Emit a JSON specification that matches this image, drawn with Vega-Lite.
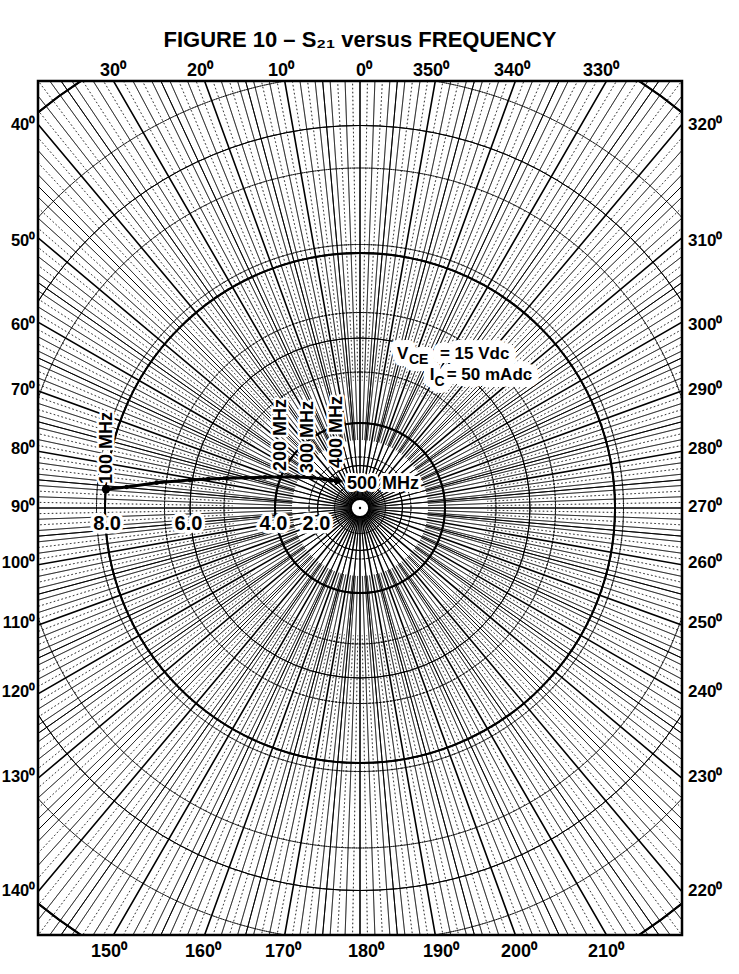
{
  "$schema": "https://vega.github.io/schema/vega-lite/v6.json",
  "width": 644,
  "height": 854,
  "autosize": {"type": "none"},
  "padding": {"left": 38, "top": 81, "right": 57, "bottom": 39},
  "background": "white",
  "config": {"view": {"stroke": "black", "strokeWidth": 2.5}},
  "title": {"text": "FIGURE 10 – S₂₁ versus FREQUENCY", "font": "Liberation Sans", "fontSize": 22, "fontWeight": "bold", "color": "black", "anchor": "middle", "offset": 10},
  "datasets": {
    "ang": [{"a":0},{"a":1},{"a":2},{"a":3},{"a":4},{"a":5},{"a":6},{"a":7},{"a":8},{"a":9},{"a":10},{"a":11},{"a":12},{"a":13},{"a":14},{"a":15},{"a":16},{"a":17},{"a":18},{"a":19},{"a":20},{"a":21},{"a":22},{"a":23},{"a":24},{"a":25},{"a":26},{"a":27},{"a":28},{"a":29},{"a":30},{"a":31},{"a":32},{"a":33},{"a":34},{"a":35},{"a":36},{"a":37},{"a":38},{"a":39},{"a":40},{"a":41},{"a":42},{"a":43},{"a":44},{"a":45},{"a":46},{"a":47},{"a":48},{"a":49},{"a":50},{"a":51},{"a":52},{"a":53},{"a":54},{"a":55},{"a":56},{"a":57},{"a":58},{"a":59},{"a":60},{"a":61},{"a":62},{"a":63},{"a":64},{"a":65},{"a":66},{"a":67},{"a":68},{"a":69},{"a":70},{"a":71},{"a":72},{"a":73},{"a":74},{"a":75},{"a":76},{"a":77},{"a":78},{"a":79},{"a":80},{"a":81},{"a":82},{"a":83},{"a":84},{"a":85},{"a":86},{"a":87},{"a":88},{"a":89},{"a":90},{"a":91},{"a":92},{"a":93},{"a":94},{"a":95},{"a":96},{"a":97},{"a":98},{"a":99},{"a":100},{"a":101},{"a":102},{"a":103},{"a":104},{"a":105},{"a":106},{"a":107},{"a":108},{"a":109},{"a":110},{"a":111},{"a":112},{"a":113},{"a":114},{"a":115},{"a":116},{"a":117},{"a":118},{"a":119},{"a":120},{"a":121},{"a":122},{"a":123},{"a":124},{"a":125},{"a":126},{"a":127},{"a":128},{"a":129},{"a":130},{"a":131},{"a":132},{"a":133},{"a":134},{"a":135},{"a":136},{"a":137},{"a":138},{"a":139},{"a":140},{"a":141},{"a":142},{"a":143},{"a":144},{"a":145},{"a":146},{"a":147},{"a":148},{"a":149},{"a":150},{"a":151},{"a":152},{"a":153},{"a":154},{"a":155},{"a":156},{"a":157},{"a":158},{"a":159},{"a":160},{"a":161},{"a":162},{"a":163},{"a":164},{"a":165},{"a":166},{"a":167},{"a":168},{"a":169},{"a":170},{"a":171},{"a":172},{"a":173},{"a":174},{"a":175},{"a":176},{"a":177},{"a":178},{"a":179},{"a":180},{"a":181},{"a":182},{"a":183},{"a":184},{"a":185},{"a":186},{"a":187},{"a":188},{"a":189},{"a":190},{"a":191},{"a":192},{"a":193},{"a":194},{"a":195},{"a":196},{"a":197},{"a":198},{"a":199},{"a":200},{"a":201},{"a":202},{"a":203},{"a":204},{"a":205},{"a":206},{"a":207},{"a":208},{"a":209},{"a":210},{"a":211},{"a":212},{"a":213},{"a":214},{"a":215},{"a":216},{"a":217},{"a":218},{"a":219},{"a":220},{"a":221},{"a":222},{"a":223},{"a":224},{"a":225},{"a":226},{"a":227},{"a":228},{"a":229},{"a":230},{"a":231},{"a":232},{"a":233},{"a":234},{"a":235},{"a":236},{"a":237},{"a":238},{"a":239},{"a":240},{"a":241},{"a":242},{"a":243},{"a":244},{"a":245},{"a":246},{"a":247},{"a":248},{"a":249},{"a":250},{"a":251},{"a":252},{"a":253},{"a":254},{"a":255},{"a":256},{"a":257},{"a":258},{"a":259},{"a":260},{"a":261},{"a":262},{"a":263},{"a":264},{"a":265},{"a":266},{"a":267},{"a":268},{"a":269},{"a":270},{"a":271},{"a":272},{"a":273},{"a":274},{"a":275},{"a":276},{"a":277},{"a":278},{"a":279},{"a":280},{"a":281},{"a":282},{"a":283},{"a":284},{"a":285},{"a":286},{"a":287},{"a":288},{"a":289},{"a":290},{"a":291},{"a":292},{"a":293},{"a":294},{"a":295},{"a":296},{"a":297},{"a":298},{"a":299},{"a":300},{"a":301},{"a":302},{"a":303},{"a":304},{"a":305},{"a":306},{"a":307},{"a":308},{"a":309},{"a":310},{"a":311},{"a":312},{"a":313},{"a":314},{"a":315},{"a":316},{"a":317},{"a":318},{"a":319},{"a":320},{"a":321},{"a":322},{"a":323},{"a":324},{"a":325},{"a":326},{"a":327},{"a":328},{"a":329},{"a":330},{"a":331},{"a":332},{"a":333},{"a":334},{"a":335},{"a":336},{"a":337},{"a":338},{"a":339},{"a":340},{"a":341},{"a":342},{"a":343},{"a":344},{"a":345},{"a":346},{"a":347},{"a":348},{"a":349},{"a":350},{"a":351},{"a":352},{"a":353},{"a":354},{"a":355},{"a":356},{"a":357},{"a":358},{"a":359}],
    "ring": [{"k":1},{"k":2},{"k":3},{"k":4},{"k":5},{"k":6},{"k":7},{"k":8},{"k":9},{"k":10},{"k":11},{"k":12},{"k":13},{"k":14},{"k":15},{"k":16},{"k":17},{"k":18},{"k":19},{"k":20},{"k":21},{"k":22},{"k":23},{"k":24},{"k":25},{"k":26},{"k":27},{"k":28},{"k":29},{"k":30},{"k":31},{"k":32},{"k":33},{"k":34},{"k":35},{"k":36},{"k":37},{"k":38},{"k":39},{"k":40},{"k":41},{"k":42},{"k":43},{"k":44},{"k":45},{"k":46},{"k":47},{"k":48},{"k":49},{"k":50},{"k":51},{"k":52},{"k":53},{"k":54},{"k":55},{"k":56},{"k":57},{"k":58},{"k":59},{"k":60},{"k":61},{"k":62},{"k":63}],
    "curve": [
      {"f":100,"x":-29.88,"y":2.20},
      {"f":110,"x":-27.45,"y":2.47},
      {"f":125,"x":-23.92,"y":2.98},
      {"f":140,"x":-20.00,"y":3.29},
      {"f":150,"x":-17.85,"y":3.41},
      {"f":160,"x":-15.68,"y":3.49},
      {"f":170,"x":-13.45,"y":3.56},
      {"f":185,"x":-11.18,"y":3.61},
      {"f":200,"x":-9.53,"y":3.65},
      {"f":250,"x":-7.45,"y":3.65},
      {"f":300,"x":-5.68,"y":3.56},
      {"f":350,"x":-4.12,"y":3.38},
      {"f":400,"x":-3.33,"y":3.26},
      {"f":500,"x":-2.44,"y":3.18}
    ],
    "lab": [
      {"g":"top","t":"30⁰","x":-29.06,"y":51.41},
      {"g":"top","t":"20⁰","x":-18.82,"y":51.41},
      {"g":"top","t":"10⁰","x":-9.29,"y":51.41},
      {"g":"top","t":"0⁰","x":0.47,"y":51.41},
      {"g":"top","t":"350⁰","x":8.35,"y":51.41},
      {"g":"top","t":"340⁰","x":17.88,"y":51.41},
      {"g":"top","t":"330⁰","x":28.35,"y":51.41},
      {"g":"bottom","t":"150⁰","x":-29.53,"y":-52.2},
      {"g":"bottom","t":"160⁰","x":-18.47,"y":-52.2},
      {"g":"bottom","t":"170⁰","x":-9.06,"y":-52.2},
      {"g":"bottom","t":"180⁰","x":0.71,"y":-52.2},
      {"g":"bottom","t":"190⁰","x":9.53,"y":-52.2},
      {"g":"bottom","t":"200⁰","x":18.71,"y":-52.2},
      {"g":"bottom","t":"210⁰","x":28.94,"y":-52.2},
      {"g":"left","t":"40⁰","x":-38.2,"y":45.06},
      {"g":"left","t":"50⁰","x":-38.2,"y":31.41},
      {"g":"left","t":"60⁰","x":-38.2,"y":21.53},
      {"g":"left","t":"70⁰","x":-38.2,"y":13.88},
      {"g":"left","t":"80⁰","x":-38.2,"y":6.94},
      {"g":"left","t":"90⁰","x":-38.2,"y":0.12},
      {"g":"left","t":"100⁰","x":-38.2,"y":-6.47},
      {"g":"left","t":"110⁰","x":-38.2,"y":-13.53},
      {"g":"left","t":"120⁰","x":-38.2,"y":-21.65},
      {"g":"left","t":"130⁰","x":-38.2,"y":-31.65},
      {"g":"left","t":"140⁰","x":-38.2,"y":-45.06},
      {"g":"right","t":"320⁰","x":38.59,"y":45.06},
      {"g":"right","t":"310⁰","x":38.59,"y":31.41},
      {"g":"right","t":"300⁰","x":38.59,"y":21.53},
      {"g":"right","t":"290⁰","x":38.59,"y":13.88},
      {"g":"right","t":"280⁰","x":38.59,"y":6.94},
      {"g":"right","t":"270⁰","x":38.59,"y":0.12},
      {"g":"right","t":"260⁰","x":38.59,"y":-6.47},
      {"g":"right","t":"250⁰","x":38.59,"y":-13.53},
      {"g":"right","t":"240⁰","x":38.59,"y":-21.65},
      {"g":"right","t":"230⁰","x":38.59,"y":-31.65},
      {"g":"right","t":"220⁰","x":38.59,"y":-45.06},
      {"g":"mag","t":"8.0","x":-29.76,"y":-1.88},
      {"g":"mag","t":"6.0","x":-20.18,"y":-1.88},
      {"g":"mag","t":"4.0","x":-10.18,"y":-1.88},
      {"g":"mag","t":"2.0","x":-5.12,"y":-1.88},
      {"g":"freqv","t":"100 MHz","x":-29.82,"y":2.82},
      {"g":"freqv","t":"200 MHz","x":-9.24,"y":4.35},
      {"g":"freqv","t":"300 MHz","x":-6.06,"y":4.12},
      {"g":"freqv","t":"400 MHz","x":-2.76,"y":4.71},
      {"g":"freqh","t":"500 MHz","x":-1.53,"y":2.24},
      {"g":"cond","t":"V","x":4.35,"y":17.53},
      {"g":"condsub","t":"CE","x":5.76,"y":16.94},
      {"g":"cond","t":"= 15 Vdc","x":9.4,"y":17.53},
      {"g":"cond","t":"I","x":8.2,"y":15.06},
      {"g":"condsub","t":"C","x":8.75,"y":14.4},
      {"g":"cond","t":"= 50 mAdc","x":10.2,"y":15.06}
    ]
  },
  "layer": [
    {
      "data": {"name": "ring"},
      "transform": [{"filter": "datum.k % 5 != 0"}],
      "mark": {"type": "arc", "theta": 0, "theta2": 6.2832, "fill": "transparent", "stroke": "black", "strokeWidth": 0.8, "strokeDash": [2.5, 1.2], "clip": true},
      "encoding": {"radius": {"field": "k", "type": "quantitative", "scale": {"type": "linear", "domain": [0, 100], "range": [0, 850], "zero": true, "nice": false}}}
    },
    {
      "data": {"name": "ring"},
      "transform": [{"filter": "datum.k % 5 == 0 && datum.k % 10 != 0"}],
      "mark": {"type": "arc", "theta": 0, "theta2": 6.2832, "fill": "transparent", "stroke": "black", "strokeWidth": 1.0, "clip": true},
      "encoding": {"radius": {"field": "k", "type": "quantitative", "scale": {"type": "linear", "domain": [0, 100], "range": [0, 850], "zero": true, "nice": false}}}
    },
    {
      "data": {"name": "ring"},
      "transform": [{"filter": "datum.k % 10 == 0"}],
      "mark": {"type": "arc", "theta": 0, "theta2": 6.2832, "fill": "transparent", "stroke": "black", "strokeWidth": 1.9, "clip": true},
      "encoding": {"radius": {"field": "k", "type": "quantitative", "scale": {"type": "linear", "domain": [0, 100], "range": [0, 850], "zero": true, "nice": false}}}
    },
    {
      "data": {"name": "ang"},
      "transform": [{"filter": "datum.a % 2 == 1 && datum.a % 5 != 0"}],
      "mark": {"type": "arc", "fill": "transparent", "stroke": "black", "strokeWidth": 0.55, "strokeDash": [1.5, 2.5], "clip": true},
      "encoding": {
        "theta": {"field": "a", "type": "quantitative", "stack": null, "scale": {"type": "linear", "domain": [0, 360], "range": [6.283185307, 0], "zero": false, "nice": false}},
        "theta2": {"field": "a"},
        "radius": {"datum": 80, "type": "quantitative", "scale": {"type": "linear", "domain": [0, 100], "range": [0, 850], "zero": true, "nice": false}},
        "radius2": {"datum": 15}
      }
    },
    {
      "data": {"name": "ang"},
      "transform": [{"filter": "datum.a % 2 == 0 && datum.a % 10 != 0"}],
      "mark": {"type": "arc", "fill": "transparent", "stroke": "black", "strokeWidth": 0.55, "clip": true},
      "encoding": {
        "theta": {"field": "a", "type": "quantitative", "stack": null, "scale": {"type": "linear", "domain": [0, 360], "range": [6.283185307, 0], "zero": false, "nice": false}},
        "theta2": {"field": "a"},
        "radius": {"datum": 80, "type": "quantitative", "scale": {"type": "linear", "domain": [0, 100], "range": [0, 850], "zero": true, "nice": false}},
        "radius2": {"datum": 8}
      }
    },
    {
      "data": {"name": "ang"},
      "transform": [{"filter": "datum.a % 10 == 5"}],
      "mark": {"type": "arc", "fill": "transparent", "stroke": "black", "strokeWidth": 0.9, "clip": true},
      "encoding": {
        "theta": {"field": "a", "type": "quantitative", "stack": null, "scale": {"type": "linear", "domain": [0, 360], "range": [6.283185307, 0], "zero": false, "nice": false}},
        "theta2": {"field": "a"},
        "radius": {"datum": 80, "type": "quantitative", "scale": {"type": "linear", "domain": [0, 100], "range": [0, 850], "zero": true, "nice": false}},
        "radius2": {"datum": 1.2}
      }
    },
    {
      "data": {"name": "ang"},
      "transform": [{"filter": "datum.a % 10 == 0"}],
      "mark": {"type": "arc", "fill": "transparent", "stroke": "black", "strokeWidth": 1.6, "clip": true},
      "encoding": {
        "theta": {"field": "a", "type": "quantitative", "stack": null, "scale": {"type": "linear", "domain": [0, 360], "range": [6.283185307, 0], "zero": false, "nice": false}},
        "theta2": {"field": "a"},
        "radius": {"datum": 80, "type": "quantitative", "scale": {"type": "linear", "domain": [0, 100], "range": [0, 850], "zero": true, "nice": false}},
        "radius2": {"datum": 1.2}
      }
    },
    {
      "data": {"values": [{}]},
      "mark": {"type": "arc", "theta": 0, "theta2": 6.2832, "fill": "white", "stroke": "black", "strokeWidth": 2.5},
      "encoding": {"radius": {"datum": 1.1, "type": "quantitative", "scale": {"type": "linear", "domain": [0, 100], "range": [0, 850], "zero": true, "nice": false}}}
    },
    {
      "data": {"values": [{}]},
      "mark": {"type": "arc", "theta": 0, "theta2": 6.2832, "fill": "black"},
      "encoding": {"radius": {"datum": 0.14, "type": "quantitative", "scale": {"type": "linear", "domain": [0, 100], "range": [0, 850], "zero": true, "nice": false}}}
    },
    {
      "data": {"name": "lab"},
      "transform": [{"filter": "datum.g == 'mag'"}],
      "mark": {"type": "text", "align": "center", "baseline": "middle", "fontSize": 20, "fontWeight": "bold", "font": "Liberation Sans", "fill": "white", "stroke": "white", "strokeWidth": 7, "strokeJoin": "round"},
      "encoding": {
        "x": {"field": "x", "type": "quantitative", "axis": null, "scale": {"domain": [-37.882, 37.882], "nice": false, "zero": false}},
        "y": {"field": "y", "type": "quantitative", "axis": null, "scale": {"domain": [-50.235, 50.235], "nice": false, "zero": false}},
        "text": {"field": "t"}
      }
    },
    {
      "data": {"name": "lab"},
      "transform": [{"filter": "datum.g == 'freqh'"}],
      "mark": {"type": "text", "align": "left", "baseline": "alphabetic", "fontSize": 18, "fontWeight": "bold", "font": "Liberation Sans", "fill": "white", "stroke": "white", "strokeWidth": 6, "strokeJoin": "round"},
      "encoding": {
        "x": {"field": "x", "type": "quantitative", "axis": null, "scale": {"domain": [-37.882, 37.882], "nice": false, "zero": false}},
        "y": {"field": "y", "type": "quantitative", "axis": null, "scale": {"domain": [-50.235, 50.235], "nice": false, "zero": false}},
        "text": {"field": "t"}
      }
    },
    {
      "data": {"name": "lab"},
      "transform": [{"filter": "datum.g == 'freqv'"}],
      "mark": {"type": "text", "align": "left", "baseline": "middle", "angle": 270, "fontSize": 18, "fontWeight": "bold", "font": "Liberation Sans", "fill": "white", "stroke": "white", "strokeWidth": 5, "strokeJoin": "round"},
      "encoding": {
        "x": {"field": "x", "type": "quantitative", "axis": null, "scale": {"domain": [-37.882, 37.882], "nice": false, "zero": false}},
        "y": {"field": "y", "type": "quantitative", "axis": null, "scale": {"domain": [-50.235, 50.235], "nice": false, "zero": false}},
        "text": {"field": "t"}
      }
    },
    {
      "data": {"name": "lab"},
      "transform": [{"filter": "datum.g == 'cond'"}],
      "mark": {"type": "text", "align": "left", "baseline": "alphabetic", "fontSize": 17, "fontWeight": "bold", "font": "Liberation Sans", "fill": "white", "stroke": "white", "strokeWidth": 14, "strokeJoin": "round"},
      "encoding": {
        "x": {"field": "x", "type": "quantitative", "axis": null, "scale": {"domain": [-37.882, 37.882], "nice": false, "zero": false}},
        "y": {"field": "y", "type": "quantitative", "axis": null, "scale": {"domain": [-50.235, 50.235], "nice": false, "zero": false}},
        "text": {"field": "t"}
      }
    },
    {
      "data": {"name": "lab"},
      "transform": [{"filter": "datum.g == 'condsub'"}],
      "mark": {"type": "text", "align": "left", "baseline": "alphabetic", "fontSize": 14, "fontWeight": "bold", "font": "Liberation Sans", "fill": "white", "stroke": "white", "strokeWidth": 14, "strokeJoin": "round"},
      "encoding": {
        "x": {"field": "x", "type": "quantitative", "axis": null, "scale": {"domain": [-37.882, 37.882], "nice": false, "zero": false}},
        "y": {"field": "y", "type": "quantitative", "axis": null, "scale": {"domain": [-50.235, 50.235], "nice": false, "zero": false}},
        "text": {"field": "t"}
      }
    },
    {
      "data": {"name": "curve"},
      "mark": {"type": "line", "color": "black", "strokeWidth": 3},
      "encoding": {
        "x": {"field": "x", "type": "quantitative", "axis": null, "scale": {"domain": [-37.882, 37.882], "nice": false, "zero": false}},
        "y": {"field": "y", "type": "quantitative", "axis": null, "scale": {"domain": [-50.235, 50.235], "nice": false, "zero": false}},
        "order": {"field": "f", "type": "quantitative"}
      }
    },
    {
      "data": {"name": "curve"},
      "transform": [{"filter": "datum.f > 100 && datum.f < 500"}],
      "mark": {"type": "point", "filled": true, "color": "black", "size": 22, "opacity": 1},
      "encoding": {
        "x": {"field": "x", "type": "quantitative", "axis": null, "scale": {"domain": [-37.882, 37.882], "nice": false, "zero": false}},
        "y": {"field": "y", "type": "quantitative", "axis": null, "scale": {"domain": [-50.235, 50.235], "nice": false, "zero": false}}
      }
    },
    {
      "data": {"name": "curve"},
      "transform": [{"filter": "datum.f == 100"}],
      "mark": {"type": "point", "filled": true, "color": "black", "size": 70, "opacity": 1},
      "encoding": {
        "x": {"field": "x", "type": "quantitative", "axis": null, "scale": {"domain": [-37.882, 37.882], "nice": false, "zero": false}},
        "y": {"field": "y", "type": "quantitative", "axis": null, "scale": {"domain": [-50.235, 50.235], "nice": false, "zero": false}}
      }
    },
    {
      "data": {"name": "curve"},
      "transform": [{"filter": "datum.f == 500"}],
      "mark": {"type": "point", "shape": "triangle-right", "filled": true, "color": "black", "size": 90, "opacity": 1, "angle": 5},
      "encoding": {
        "x": {"field": "x", "type": "quantitative", "axis": null, "scale": {"domain": [-37.882, 37.882], "nice": false, "zero": false}},
        "y": {"field": "y", "type": "quantitative", "axis": null, "scale": {"domain": [-50.235, 50.235], "nice": false, "zero": false}}
      }
    },
    {
      "data": {"name": "lab"},
      "transform": [{"filter": "datum.g == 'top' || datum.g == 'bottom'"}],
      "mark": {"type": "text", "align": "center", "baseline": "middle", "fontSize": 18, "fontWeight": "bold", "font": "Liberation Sans", "color": "black"},
      "encoding": {
        "x": {"field": "x", "type": "quantitative", "axis": null, "scale": {"domain": [-37.882, 37.882], "nice": false, "zero": false}},
        "y": {"field": "y", "type": "quantitative", "axis": null, "scale": {"domain": [-50.235, 50.235], "nice": false, "zero": false}},
        "text": {"field": "t"}
      }
    },
    {
      "data": {"name": "lab"},
      "transform": [{"filter": "datum.g == 'left'"}],
      "mark": {"type": "text", "align": "right", "baseline": "middle", "fontSize": 16.5, "fontWeight": "bold", "font": "Liberation Sans", "color": "black"},
      "encoding": {
        "x": {"field": "x", "type": "quantitative", "axis": null, "scale": {"domain": [-37.882, 37.882], "nice": false, "zero": false}},
        "y": {"field": "y", "type": "quantitative", "axis": null, "scale": {"domain": [-50.235, 50.235], "nice": false, "zero": false}},
        "text": {"field": "t"}
      }
    },
    {
      "data": {"name": "lab"},
      "transform": [{"filter": "datum.g == 'right'"}],
      "mark": {"type": "text", "align": "left", "baseline": "middle", "fontSize": 17, "fontWeight": "bold", "font": "Liberation Sans", "color": "black"},
      "encoding": {
        "x": {"field": "x", "type": "quantitative", "axis": null, "scale": {"domain": [-37.882, 37.882], "nice": false, "zero": false}},
        "y": {"field": "y", "type": "quantitative", "axis": null, "scale": {"domain": [-50.235, 50.235], "nice": false, "zero": false}},
        "text": {"field": "t"}
      }
    },
    {
      "data": {"name": "lab"},
      "transform": [{"filter": "datum.g == 'mag'"}],
      "mark": {"type": "text", "align": "center", "baseline": "middle", "fontSize": 20, "fontWeight": "bold", "font": "Liberation Sans", "color": "black"},
      "encoding": {
        "x": {"field": "x", "type": "quantitative", "axis": null, "scale": {"domain": [-37.882, 37.882], "nice": false, "zero": false}},
        "y": {"field": "y", "type": "quantitative", "axis": null, "scale": {"domain": [-50.235, 50.235], "nice": false, "zero": false}},
        "text": {"field": "t"}
      }
    },
    {
      "data": {"name": "lab"},
      "transform": [{"filter": "datum.g == 'freqh'"}],
      "mark": {"type": "text", "align": "left", "baseline": "alphabetic", "fontSize": 18, "fontWeight": "bold", "font": "Liberation Sans", "color": "black"},
      "encoding": {
        "x": {"field": "x", "type": "quantitative", "axis": null, "scale": {"domain": [-37.882, 37.882], "nice": false, "zero": false}},
        "y": {"field": "y", "type": "quantitative", "axis": null, "scale": {"domain": [-50.235, 50.235], "nice": false, "zero": false}},
        "text": {"field": "t"}
      }
    },
    {
      "data": {"name": "lab"},
      "transform": [{"filter": "datum.g == 'freqv'"}],
      "mark": {"type": "text", "align": "left", "baseline": "middle", "angle": 270, "fontSize": 18, "fontWeight": "bold", "font": "Liberation Sans", "color": "black"},
      "encoding": {
        "x": {"field": "x", "type": "quantitative", "axis": null, "scale": {"domain": [-37.882, 37.882], "nice": false, "zero": false}},
        "y": {"field": "y", "type": "quantitative", "axis": null, "scale": {"domain": [-50.235, 50.235], "nice": false, "zero": false}},
        "text": {"field": "t"}
      }
    },
    {
      "data": {"name": "lab"},
      "transform": [{"filter": "datum.g == 'cond'"}],
      "mark": {"type": "text", "align": "left", "baseline": "alphabetic", "fontSize": 17, "fontWeight": "bold", "font": "Liberation Sans", "color": "black"},
      "encoding": {
        "x": {"field": "x", "type": "quantitative", "axis": null, "scale": {"domain": [-37.882, 37.882], "nice": false, "zero": false}},
        "y": {"field": "y", "type": "quantitative", "axis": null, "scale": {"domain": [-50.235, 50.235], "nice": false, "zero": false}},
        "text": {"field": "t"}
      }
    },
    {
      "data": {"name": "lab"},
      "transform": [{"filter": "datum.g == 'condsub'"}],
      "mark": {"type": "text", "align": "left", "baseline": "alphabetic", "fontSize": 14, "fontWeight": "bold", "font": "Liberation Sans", "color": "black"},
      "encoding": {
        "x": {"field": "x", "type": "quantitative", "axis": null, "scale": {"domain": [-37.882, 37.882], "nice": false, "zero": false}},
        "y": {"field": "y", "type": "quantitative", "axis": null, "scale": {"domain": [-50.235, 50.235], "nice": false, "zero": false}},
        "text": {"field": "t"}
      }
    }
  ]
}
